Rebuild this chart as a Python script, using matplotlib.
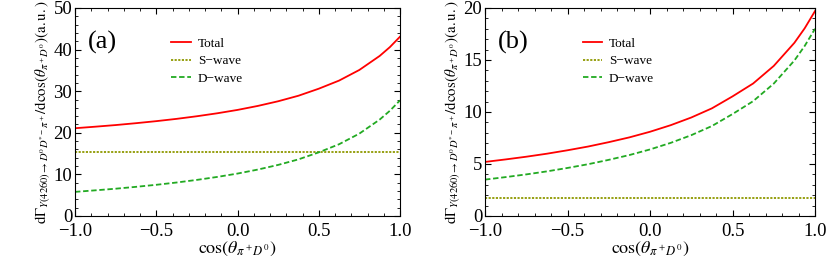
import matplotlib
matplotlib.use("Agg")
import matplotlib.pyplot as plt
import matplotlib.ticker as ticker

plt.rcParams.update({'font.family': 'serif', 'font.serif': ['Liberation Serif', 'DejaVu Serif'],
                     'mathtext.fontset': 'stix', 'font.size': 12})

# cos(theta) sample points
cos_theta = [-1.0, -0.875, -0.75, -0.625, -0.5, -0.375, -0.25, -0.125, 0.0,
             0.125, 0.25, 0.375, 0.5, 0.625, 0.75, 0.875, 0.9375, 1.0]

# panel (a)
s_wave_a = 15.3
d_wave_a = [5.8, 6.17, 6.56, 7.01, 7.5, 8.05, 8.68, 9.39, 10.2,
            11.16, 12.28, 13.61, 15.3, 17.25, 19.81, 23.18, 25.29, 27.8]
total_a = [21.1, 21.47, 21.86, 22.31, 22.8, 23.35, 23.98, 24.69, 25.5,
           26.46, 27.58, 28.91, 30.6, 32.55, 35.11, 38.48, 40.59, 43.1]

# panel (b)
s_wave_b = 1.7
d_wave_b = [3.5, 3.74, 4.0, 4.29, 4.62, 4.98, 5.4, 5.86, 6.4,
            7.03, 7.77, 8.65, 9.8, 11.04, 12.73, 14.95, 16.35, 18.0]
total_b = [5.2, 5.44, 5.7, 5.99, 6.32, 6.68, 7.1, 7.56, 8.1,
           8.73, 9.47, 10.35, 11.5, 12.74, 14.43, 16.65, 18.05, 19.7]

ylabel = r'$\mathrm{d}\Gamma_{Y(4260)\to D^0 D^{*-}\pi^+}/\mathrm{dcos}(\theta_{\pi^+D^0})\mathrm{(a.u.)}$'
xlabel = r'$\mathrm{cos}(\theta_{\pi^+D^0})$'

fig = plt.figure(figsize=(8.3, 2.57), dpi=100)
ax_a = fig.add_axes([75/830, 1-216/257, 325/830, 208/257])
ax_b = fig.add_axes([485/830, 1-216/257, 330/830, 208/257])

panels = [(ax_a, total_a, s_wave_a, d_wave_a, 50, 10, 2, '(a)'),
          (ax_b, total_b, s_wave_b, d_wave_b, 20, 5, 1, '(b)')]

for ax, tot, sw, dw, ymax, major, minor, tag in panels:
    ax.plot(cos_theta, tot, color='red', lw=1.3, label='Total')
    ax.plot([cos_theta[0], cos_theta[-1]], [sw, sw], color='#8f9900', lw=1.3,
            linestyle=(0, (1.2, 0.8)), label='S\u2212wave')
    ax.plot(cos_theta, dw, color='#22aa22', lw=1.3, linestyle=(0, (3, 1.5)), label='D\u2212wave')
    ax.set_xlim(-1, 1)
    ax.set_ylim(0, ymax)
    ax.xaxis.set_major_locator(ticker.MultipleLocator(0.5))
    ax.xaxis.set_minor_locator(ticker.MultipleLocator(0.1))
    ax.xaxis.set_major_formatter(ticker.FuncFormatter(lambda v, p: f"{v:.1f}".replace('-', '\u2212')))
    ax.yaxis.set_major_locator(ticker.MultipleLocator(major))
    ax.yaxis.set_minor_locator(ticker.MultipleLocator(minor))
    ax.tick_params(which='both', direction='in', top=True, right=True, labelsize=13.5)
    ax.tick_params(which='major', length=4)
    ax.tick_params(axis='y', which='major', pad=2)
    ax.tick_params(axis='x', which='major', pad=5)
    ax.tick_params(which='minor', length=2)
    ax.set_xlabel(xlabel, fontsize=13, labelpad=0)
    ax.set_ylabel(ylabel, fontsize=10.8, labelpad=1)
    ax.text(0.04, 0.835, tag, transform=ax.transAxes, fontsize=19, va='center')
    ax.legend(loc='upper left', bbox_to_anchor=(0.26, 0.915), frameon=False, fontsize=9.5,
              handlelength=1.5, labelspacing=0.4, handletextpad=0.5)

fig.savefig('out.png', dpi=100)
